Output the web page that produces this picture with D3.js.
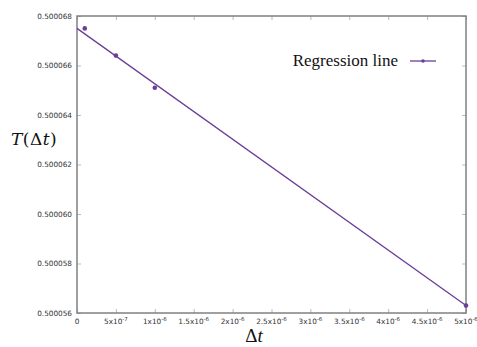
<!DOCTYPE html>
<html lang="en">
  <head>
    <meta charset="UTF-8" />
    <title>regression</title>
    <style>
      body { margin: 0; background: #fff; }
      svg { display: block; }
    </style>
  </head>
  <body>
    <svg></svg>
    <script src="https://d3js.org/d3.v7.min.js"></script>
    <script>
      // data
      const dtValues = [1e-7, 5e-7, 1e-6, 5e-6];
      const tValues = [0.5000675, 0.5000664, 0.5000651, 0.5000563];
      // regression line end points
      const lineDt = [0, 5e-6];
      const lineT = [0.5000675, 0.5000563];

      const xTicks = [0, 5e-7, 1e-6, 1.5e-6, 2e-6, 2.5e-6, 3e-6, 3.5e-6, 4e-6, 4.5e-6, 5e-6];
      const xTickMant = ["0", "5x10", "1x10", "1.5x10", "2x10", "2.5x10", "3x10", "3.5x10", "4x10", "4.5x10", "5x10"];
      const xTickExp = ["", "-7", "-6", "-6", "-6", "-6", "-6", "-6", "-6", "-6", "-6"];
      const yTicks = [0.500056, 0.500058, 0.50006, 0.500062, 0.500064, 0.500066, 0.500068];
      const yTickLabels = ["0.500056", "0.500058", "0.500060", "0.500062", "0.500064", "0.500066", "0.500068"];

      const W = 477, H = 347;
      const mLeft = 77, mRight = 466, mTop = 16, mBottom = 313;
      const purple = "#6b3e98";
      const grey = "#808080";

      const svg = d3.select("svg").attr("width", W).attr("height", H);

      const x = d3.scaleLinear().domain([0, 5e-6]).range([mLeft, mRight]);
      const y = d3.scaleLinear().domain([0.500056, 0.500068]).range([mBottom, mTop]);

      // mirror ticks on all four sides (gnuplot style)
      const tickStyle = (g) => {
        g.select(".domain").remove();
        g.selectAll(".tick line").attr("stroke", "#bbb").attr("stroke-width", 1);
      };
      svg.append("g").attr("transform", `translate(0,${mBottom})`)
        .call(d3.axisBottom(x).tickValues(xTicks).tickSize(-4).tickFormat(""))
        .call(tickStyle);
      svg.append("g").attr("transform", `translate(0,${mTop})`)
        .call(d3.axisTop(x).tickValues(xTicks).tickSize(-4).tickFormat(""))
        .call(tickStyle);
      svg.append("g").attr("transform", `translate(${mLeft},0)`)
        .call(d3.axisLeft(y).tickValues(yTicks).tickSize(-4).tickFormat(""))
        .call(tickStyle);
      svg.append("g").attr("transform", `translate(${mRight},0)`)
        .call(d3.axisRight(y).tickValues(yTicks).tickSize(-4).tickFormat(""))
        .call(tickStyle);

      // border
      svg.append("rect")
        .attr("x", mLeft).attr("y", mTop)
        .attr("width", mRight - mLeft).attr("height", mBottom - mTop)
        .attr("fill", "none").attr("stroke", grey).attr("stroke-width", 1.5);

      // y tick labels
      svg.append("g").selectAll("text")
        .data(yTicks)
        .join("text")
        .attr("x", mLeft - 5)
        .attr("y", (d) => y(d) + 2.5)
        .attr("text-anchor", "end")
        .attr("font-family", "DejaVu Sans")
        .attr("font-size", "7.3px")
        .attr("fill", "#333")
        .text((d, i) => yTickLabels[i]);

      // x tick labels with superscript exponents
      const xl = svg.append("g").selectAll("text")
        .data(xTicks)
        .join("text")
        .attr("x", (d) => x(d))
        .attr("y", mBottom + 11)
        .attr("text-anchor", "middle")
        .attr("font-family", "DejaVu Sans")
        .attr("font-size", "7.3px")
        .attr("fill", "#333");
      xl.append("tspan").text((d, i) => xTickMant[i]);
      xl.append("tspan")
        .attr("dy", -3)
        .attr("font-size", "5.5px")
        .text((d, i) => xTickExp[i]);

      // regression line
      const line = d3.line().x((d) => x(d[0])).y((d) => y(d[1]));
      svg.append("path")
        .datum(lineDt.map((d, i) => [d, lineT[i]]))
        .attr("d", line)
        .attr("fill", "none")
        .attr("stroke", purple)
        .attr("stroke-width", 1.3);

      // points
      svg.append("g").selectAll("circle")
        .data(dtValues)
        .join("circle")
        .attr("cx", (d) => x(d))
        .attr("cy", (d, i) => y(tValues[i]))
        .attr("r", 2.3)
        .attr("fill", purple);

      // legend
      svg.append("text")
        .attr("x", 398)
        .attr("y", 66)
        .attr("text-anchor", "end")
        .attr("font-family", "Liberation Serif")
        .attr("font-size", "17px")
        .attr("fill", "#111")
        .text("Regression line");
      svg.append("line")
        .attr("x1", 410).attr("x2", 436)
        .attr("y1", 61).attr("y2", 61)
        .attr("stroke", purple).attr("stroke-width", 1.3);
      svg.append("circle")
        .attr("cx", 423).attr("cy", 61).attr("r", 1.8)
        .attr("fill", purple);

      // axis titles
      const yTitle = svg.append("text")
        .attr("x", 11)
        .attr("y", 145)
        .attr("font-family", "DejaVu Serif")
        .attr("font-size", "17px")
        .attr("letter-spacing", "0.5px")
        .attr("fill", "#111");
      yTitle.append("tspan").attr("font-style", "italic").text("T");
      yTitle.append("tspan").text("(Δ");
      yTitle.append("tspan").attr("font-style", "italic").text("t");
      yTitle.append("tspan").text(")");

      const xTitle = svg.append("text")
        .attr("x", 254)
        .attr("y", 342)
        .attr("text-anchor", "middle")
        .attr("font-family", "Liberation Serif")
        .attr("font-size", "19px")
        .attr("fill", "#111");
      xTitle.append("tspan").text("Δ");
      xTitle.append("tspan").attr("font-style", "italic").text("t");
    </script>
  </body>
</html>
